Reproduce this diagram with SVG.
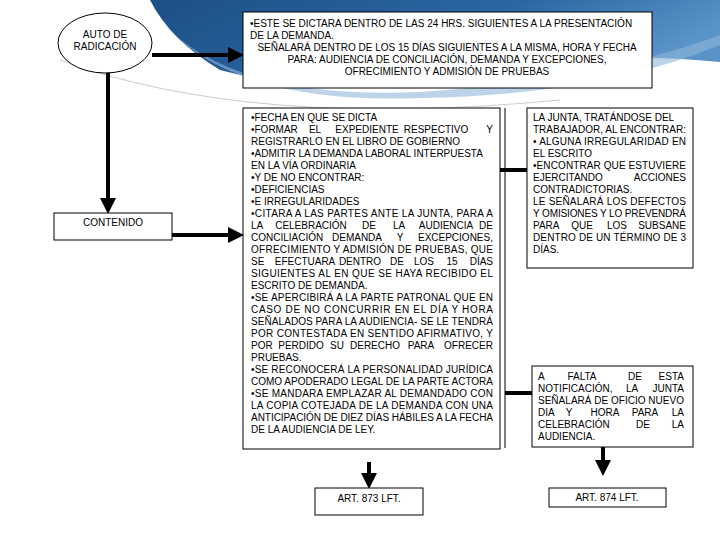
<svg xmlns="http://www.w3.org/2000/svg" width="720" height="540" viewBox="0 0 720 540">
<defs>
<linearGradient id="bg" x1="0" y1="0" x2="1" y2="0.3">
<stop offset="0" stop-color="#1d4f86"/><stop offset="0.6" stop-color="#2b66a3"/><stop offset="1" stop-color="#5a93c8"/>
</linearGradient>
<marker id="ah" markerWidth="4" markerHeight="4" refX="2" refY="2" orient="auto" markerUnits="strokeWidth"><path d="M0,0 L4,2 L0,4Z" fill="#000"/></marker>
</defs>
<style>
text{font-family:"Liberation Sans",Arial,sans-serif;font-size:10px;fill:#000}
.box{fill:#fff;stroke:#000;stroke-width:1}
.c{stroke:#000;stroke-width:4;fill:none}
.m{text-anchor:middle}
.e{text-anchor:end}
</style>
<rect width="720" height="540" fill="#fff"/>
<path d="M150,0 H720 V62 Q600,50 480,72 Q330,100 220,70 Q170,40 150,0Z" fill="url(#bg)"/>
<path d="M160,20 Q230,100 420,92 Q600,80 720,35 V45 Q600,95 420,98 Q230,105 160,20Z" fill="#8fb5db" opacity="0.6"/>
<path d="M60,60 Q250,130 560,100" fill="none" stroke="#ccc" stroke-width="1"/>
<g id="connectors">
<line class="c" x1="152" y1="55" x2="236" y2="55" marker-end="url(#ah)"/>
<line class="c" x1="108" y1="72" x2="108" y2="206" marker-end="url(#ah)"/>
<line class="c" x1="172" y1="235" x2="236" y2="235" marker-end="url(#ah)"/>
<line stroke="#000" stroke-width="1" x1="505" y1="108" x2="505" y2="448"/>
<line class="c" x1="500" y1="170" x2="527" y2="170"/>
<line class="c" x1="505" y1="393" x2="532" y2="393"/>
<line class="c" x1="369" y1="462" x2="369" y2="481" marker-end="url(#ah)"/>
<line class="c" x1="603" y1="447" x2="603" y2="468" marker-end="url(#ah)"/>
</g>
<g id="auto"><ellipse class="box" cx="105" cy="43" rx="47" ry="30"/>
<text class="m" x="105" y="38">AUTO DE</text><text class="m" x="105" y="50">RADICACIÓN</text></g>
<g id="contenido"><rect class="box" x="54" y="213" width="118" height="27"/><text class="m" x="113" y="226">CONTENIDO</text></g>
<g id="top"><rect class="box" x="243" y="12" width="409" height="76"/>
<text x="250" y="27">•ESTE SE DICTARA DENTRO DE LAS 24 HRS. SIGUIENTES A LA PRESENTACIÓN</text>
<text x="250" y="39">DE LA DEMANDA.</text>
<text class="m" x="447" y="51">SEÑALARÁ DENTRO DE LOS 15 DÍAS SIGUIENTES A LA MISMA, HORA Y FECHA</text>
<text class="m" x="447" y="63">PARA: AUDIENCIA DE CONCILIACIÓN, DEMANDA Y EXCEPCIONES,</text>
<text class="m" x="447" y="75">OFRECIMIENTO Y ADMISIÓN DE PRUEBAS</text></g>
<g id="mid"><rect class="box" x="243" y="108" width="257" height="341"/>
<text x="251" y="121">•FECHA EN QUE SE DICTA</text>
<text x="251" y="133">•FORMAR</text><text class="m" x="315" y="133">EL</text><text class="m" x="367" y="133">EXPEDIENTE</text><text class="m" x="436" y="133">RESPECTIVO</text><text class="e" x="493" y="133">Y</text>
<text x="251" y="145">REGISTRARLO EN EL LIBRO DE GOBIERNO</text>
<text x="251" y="157">•ADMITIR LA DEMANDA LABORAL INTERPUESTA</text>
<text x="251" y="169">EN LA VÍA ORDINARIA</text>
<text x="251" y="181">•Y DE NO ENCONTRAR:</text>
<text x="251" y="193">•DEFICIENCIAS</text>
<text x="251" y="205">•E IRREGULARIDADES</text>
<text x="251" y="217" textLength="242" lengthAdjust="spacing">•CITARA A LAS PARTES ANTE LA JUNTA, PARA A</text>
<text x="251" y="229">LA</text><text class="m" x="311" y="229">CELEBRACIÓN</text><text class="m" x="369" y="229">DE</text><text class="m" x="399" y="229">LA</text><text class="m" x="446" y="229">AUDIENCIA</text><text class="e" x="493" y="229">DE</text>
<text x="251" y="241">CONCILIACIÓN</text><text class="m" x="357" y="241">DEMANDA</text><text class="m" x="400" y="241">Y</text><text class="e" x="493" y="241">EXCEPCIONES,</text>
<text x="251" y="253" textLength="242" lengthAdjust="spacing">OFRECIMIENTO Y ADMISIÓN DE PRUEBAS, QUE</text>
<text x="251" y="265">SE</text><text class="m" x="305" y="265">EFECTUARA</text><text class="m" x="360" y="265">DENTRO</text><text class="m" x="397" y="265">DE</text><text class="m" x="424" y="265">LOS</text><text class="m" x="452" y="265">15</text><text class="e" x="493" y="265">DÍAS</text>
<text x="251" y="277" textLength="242" lengthAdjust="spacing">SIGUIENTES AL EN QUE SE HAYA RECIBIDO EL</text>
<text x="251" y="289">ESCRITO DE DEMANDA.</text>
<text x="251" y="301" textLength="242" lengthAdjust="spacing">•SE APERCIBIRÁ A LA PARTE PATRONAL QUE EN</text>
<text x="251" y="313" textLength="242" lengthAdjust="spacing">CASO DE NO CONCURRIR EN EL DÍA Y HORA</text>
<text x="251" y="325" textLength="242" lengthAdjust="spacing">SEÑALADOS PARA LA AUDIENCIA- SE LE TENDRÁ</text>
<text x="251" y="337" textLength="242" lengthAdjust="spacing">POR CONTESTADA EN SENTIDO AFIRMATIVO, Y</text>
<text x="251" y="349">POR</text><text class="m" x="301" y="349">PERDIDO</text><text class="m" x="337" y="349">SU</text><text class="m" x="375" y="349">DERECHO</text><text class="m" x="421" y="349">PARA</text><text class="e" x="493" y="349">OFRECER</text>
<text x="251" y="361">PRUEBAS.</text>
<text x="251" y="373" textLength="242" lengthAdjust="spacing">•SE RECONOCERÁ LA PERSONALIDAD JURÍDICA</text>
<text x="251" y="385" textLength="242" lengthAdjust="spacing">COMO APODERADO LEGAL DE LA PARTE ACTORA</text>
<text x="251" y="397" textLength="242" lengthAdjust="spacing">•SE MANDARA EMPLAZAR AL DEMANDADO CON</text>
<text x="251" y="409" textLength="242" lengthAdjust="spacing">LA COPIA COTEJADA DE LA DEMANDA CON UNA</text>
<text x="251" y="421" textLength="242" lengthAdjust="spacing">ANTICIPACIÓN DE DIEZ DÍAS HÁBILES A LA FECHA</text>
<text x="251" y="433">DE LA AUDIENCIA DE LEY.</text></g>
<g id="junta"><rect class="box" x="527" y="108" width="166" height="160"/>
<text x="533" y="121">LA JUNTA, TRATÁNDOSE DEL</text>
<text x="533" y="133" textLength="153" lengthAdjust="spacing">TRABAJADOR, AL ENCONTRAR:</text>
<text x="533" y="145" textLength="153" lengthAdjust="spacing">• ALGUNA IRREGULARIDAD EN</text>
<text x="533" y="157">EL ESCRITO</text>
<text x="533" y="169" textLength="153" lengthAdjust="spacing">•ENCONTRAR QUE ESTUVIERE</text>
<text x="533" y="181">EJERCITANDO</text><text class="e" x="686" y="181">ACCIONES</text>
<text x="533" y="193">CONTRADICTORIAS.</text>
<text x="533" y="205" textLength="153" lengthAdjust="spacing">LE SEÑALARÁ LOS DEFECTOS</text>
<text x="533" y="217" textLength="153" lengthAdjust="spacing">Y OMISIONES Y LO PREVENDRÁ</text>
<text x="533" y="229">PARA</text><text class="m" x="582" y="229">QUE</text><text class="m" x="617" y="229">LOS</text><text class="e" x="686" y="229">SUBSANE</text>
<text x="533" y="241" textLength="153" lengthAdjust="spacing">DENTRO DE UN TÉRMINO DE 3</text>
<text x="533" y="253">DÍAS.</text></g>
<g id="falta"><rect class="box" x="532" y="366" width="161" height="81"/>
<text x="538" y="380">A</text><text class="m" x="582" y="380">FALTA</text><text class="m" x="635" y="380">DE</text><text class="e" x="684" y="380">ESTA</text>
<text x="538" y="392">NOTIFICACIÓN,</text><text class="m" x="632" y="392">LA</text><text class="e" x="684" y="392">JUNTA</text>
<text x="538" y="404" textLength="146" lengthAdjust="spacing">SEÑALARÁ DE OFICIO NUEVO</text>
<text x="538" y="416">DIA</text><text class="m" x="569" y="416">Y</text><text class="m" x="605" y="416">HORA</text><text class="m" x="645" y="416">PARA</text><text class="e" x="684" y="416">LA</text>
<text x="538" y="428">CELEBRACIÓN</text><text class="m" x="643" y="428">DE</text><text class="e" x="684" y="428">LA</text>
<text x="538" y="440">AUDIENCIA.</text></g>
<g id="art873"><rect class="box" x="315" y="488" width="108" height="27"/><text class="m" x="369" y="502">ART. 873 LFT.</text></g>
<g id="art874"><rect class="box" x="549" y="488" width="117" height="19"/><text class="m" x="607" y="501">ART. 874 LFT.</text></g>
</svg>
